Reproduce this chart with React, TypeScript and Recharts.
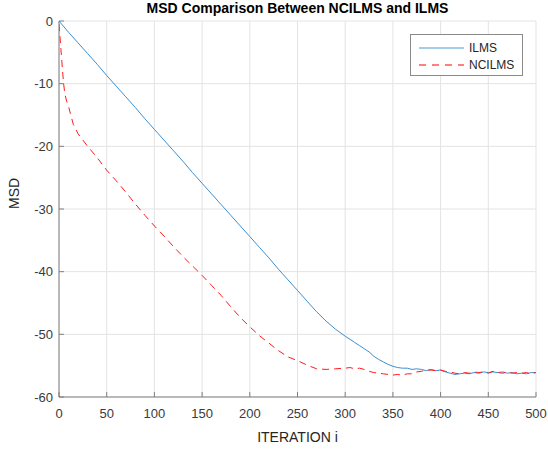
import { CartesianGrid, Line, LineChart, XAxis, YAxis } from 'recharts';

const xTicks = [0, 50, 100, 150, 200, 250, 300, 350, 400, 450, 500];
const yTicks = [-60, -50, -40, -30, -20, -10, 0];

const ilmsIter = [
  0, 10, 20, 30, 40, 50, 60, 70, 80, 90, 100, 110, 120, 130, 140, 150, 160, 170, 180, 190, 200,
  210, 220, 230, 240, 250, 260, 270, 280, 290, 300, 305, 310, 315, 320, 325, 330, 335, 340, 345,
  350, 355, 360, 365, 370, 375, 380, 385, 390, 395, 400, 405, 410, 415, 420, 425, 430, 435, 440,
  445, 450, 455, 460, 465, 470, 475, 480, 485, 490, 495, 500,
];
const ilmsMsd = [
  0, -1.8, -3.5, -5.2, -6.9, -8.7, -10.4, -12.1, -13.8, -15.6, -17.3, -19.0, -20.7, -22.4, -24.2,
  -25.9, -27.6, -29.3, -31.0, -32.7, -34.4, -36.1, -37.8, -39.6, -41.3, -43.0, -44.7, -46.4, -47.9,
  -49.2, -50.3, -50.8, -51.3, -51.8, -52.3, -52.8, -53.5, -54.0, -54.4, -54.8, -55.1, -55.3, -55.4,
  -55.4, -55.6, -55.5, -55.6, -55.8, -55.6, -55.8, -55.7, -56.0, -56.2, -56.4, -56.3, -56.2, -56.3,
  -56.1, -56.2, -56.0, -56.1, -56.0, -56.1, -56.0, -56.2, -56.1, -56.3, -56.2, -56.3, -56.1, -56.1,
];

const ncilmsIter = [
  0, 1, 2, 3, 4, 5, 6, 8, 10, 12, 15, 20, 25, 30, 40, 50, 60, 70, 80, 90, 100, 110, 120, 130, 140,
  150, 160, 170, 180, 190, 200, 210, 220, 230, 240, 250, 260, 270, 280, 290, 300, 305, 310, 315,
  320, 325, 330, 335, 340, 345, 350, 355, 360, 365, 370, 375, 380, 385, 390, 395, 400, 405, 410,
  415, 420, 425, 430, 435, 440, 445, 450, 455, 460, 465, 470, 475, 480, 485, 490, 495, 500,
];
const ncilmsMsd = [
  -0.5, -2.5, -4.5, -6.5, -8.5, -10.2, -11.5, -12.8, -13.6, -14.8, -16.5, -18.0, -19.0, -20.0,
  -21.8, -23.8, -25.5, -27.3, -29.2, -31.0, -32.7, -34.3, -36.0, -37.6, -39.1, -40.6, -42.2, -43.8,
  -45.6, -47.3, -48.8, -50.2, -51.4, -52.6, -53.6, -54.2, -54.9, -55.5, -55.6, -55.5, -55.4, -55.3,
  -55.5, -55.4, -55.6, -55.9, -56.1, -56.2, -56.3, -56.4, -56.5, -56.4, -56.5, -56.3, -56.3, -56.0,
  -55.9, -55.7, -55.7, -55.8, -55.7, -55.9, -56.0, -56.2, -56.3, -56.1, -56.2, -56.0, -56.1, -56.0,
  -56.2, -55.9, -56.1, -56.2, -56.0, -56.2, -56.1, -56.2, -56.1, -56.3, -56.1,
];

const ilmsData = ilmsIter.map((i, k) => ({ i, msd: ilmsMsd[k] }));
const ncilmsData = ncilmsIter.map((i, k) => ({ i, msd: ncilmsMsd[k] }));

const font = '"Liberation Sans", Arial, sans-serif';
const axisGray = '#808080';
const tickText = { fill: '#3a3a3a', fontSize: 13, fontFamily: font };

const LegendBox = () => (
  <div
    style={{
      position: 'absolute',
      left: 410,
      top: 34,
      width: 113,
      height: 42,
      border: '1px solid #8a8a8a',
      background: '#fff',
      fontFamily: font,
      fontSize: 12,
      color: '#262626',
      boxSizing: 'border-box',
      padding: '4px 0 0 8px',
      zIndex: 2,
    }}
  >
    <div style={{ display: 'flex', alignItems: 'center', height: 17 }}>
      <svg width={45} height={4}>
        <line x1={0} y1={2} x2={45} y2={2} stroke="#4a9bd6" strokeWidth={1.2} />
      </svg>
      <span style={{ marginLeft: 5 }}>ILMS</span>
    </div>
    <div style={{ display: 'flex', alignItems: 'center', height: 17 }}>
      <svg width={45} height={4}>
        <line x1={0} y1={2} x2={45} y2={2} stroke="#ff0000" strokeWidth={1.2} strokeDasharray="7 6" />
      </svg>
      <span style={{ marginLeft: 5 }}>NCILMS</span>
    </div>
  </div>
);

export default function App() {
  return (
    <div style={{ position: 'absolute', left: 0, top: 0, width: 548, height: 450, background: '#fff' }}>
      <div
        style={{
          position: 'absolute',
          top: 0,
          left: 59,
          width: 477,
          lineHeight: '16px',
          textAlign: 'center',
          fontFamily: font,
          fontWeight: 'bold',
          fontSize: 14,
          color: '#000',
          zIndex: 2,
        }}
      >
        MSD Comparison Between NCILMS and ILMS
      </div>
      <LineChart width={548} height={450} margin={{ top: 21, right: 12, left: 0, bottom: 0 }}>
        <CartesianGrid stroke="#e3e3e3" strokeWidth={1} xAxisId="bottom" yAxisId="left" />
        <XAxis
          xAxisId="bottom"
          dataKey="i"
          type="number"
          domain={[0, 500]}
          ticks={xTicks}
          allowDataOverflow
          height={53}
          stroke={axisGray}
          tickSize={-5}
          tickMargin={17}
          tick={tickText}
          label={{ value: 'ITERATION i', position: 'insideBottom', offset: 8, fill: '#262626', fontSize: 14, fontFamily: font }}
        />
        <XAxis
          xAxisId="top"
          orientation="top"
          dataKey="i"
          type="number"
          domain={[0, 500]}
          ticks={xTicks}
          allowDataOverflow
          height={0}
          stroke={axisGray}
          tickSize={-5}
          tickFormatter={() => ''}
        />
        <YAxis
          yAxisId="left"
          type="number"
          domain={[-60, 0]}
          ticks={yTicks}
          allowDataOverflow
          width={59}
          stroke={axisGray}
          tickSize={-5}
          tickMargin={11}
          tick={tickText}
          label={{ value: 'MSD', angle: -90, position: 'insideLeft', offset: 14, fill: '#262626', fontSize: 14, fontFamily: font }}
        />
        <YAxis
          yAxisId="right"
          orientation="right"
          type="number"
          domain={[-60, 0]}
          ticks={yTicks}
          allowDataOverflow
          width={0}
          stroke={axisGray}
          tickSize={-5}
          tickFormatter={() => ''}
        />
        <Line
          data={ilmsData}
          xAxisId="bottom"
          yAxisId="left"
          dataKey="msd"
          name="ILMS"
          type="linear"
          stroke="#3d8fd1"
          strokeWidth={1}
          dot={false}
          isAnimationActive={false}
        />
        <Line
          data={ncilmsData}
          xAxisId="bottom"
          yAxisId="left"
          dataKey="msd"
          name="NCILMS"
          type="linear"
          stroke="#ff1a1a"
          strokeWidth={1}
          strokeDasharray="7 5"
          dot={false}
          isAnimationActive={false}
        />
      </LineChart>
      <LegendBox />
    </div>
  );
}
